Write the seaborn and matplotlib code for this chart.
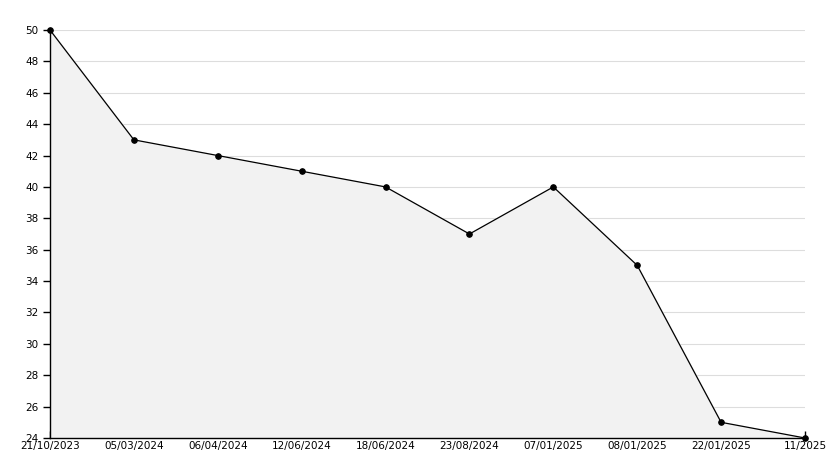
import numpy as np
import matplotlib
matplotlib.use('Agg')
import matplotlib.pyplot as plt
import seaborn as sns
from matplotlib.ticker import MultipleLocator

dates = ['21/10/2023', '05/03/2024', '06/04/2024', '12/06/2024', '18/06/2024',
         '23/08/2024', '07/01/2025', '08/01/2025', '22/01/2025', '11/2025']
values = [50, 43, 42, 41, 40, 37, 40, 35, 25, 24]

sns.set_style('ticks')
plt.rcParams['font.family'] = ['DejaVu Sans']

fig = plt.figure(figsize=(8.34, 4.68), dpi=100)
ax = fig.add_axes([50/834, 1-438/468, 755/834, 408/468])

x = np.arange(len(values))
ax.fill_between(x, values, 24, color='#f2f2f2', zorder=1)
sns.lineplot(x=x, y=values, ax=ax, color='black', lw=0.9, marker='o',
             markersize=4, markeredgecolor='black', zorder=3, clip_on=False)

ax.set_xlim(0, len(values) - 1)
ax.set_ylim(24, 50)
ax.yaxis.set_major_locator(MultipleLocator(2))
ax.yaxis.set_minor_locator(MultipleLocator(1))
ax.set_xticks(x)
ax.set_xticklabels(dates)
ax.grid(axis='y', which='major', color='#dddddd', lw=0.8, zorder=0)
ax.set_axisbelow(True)
ax.tick_params(axis='y', which='major', direction='out', length=5, width=1,
               labelsize=7.5, color='black', labelcolor='black', left=True)
ax.tick_params(axis='y', which='minor', direction='in', length=3, width=1,
               color='black', left=True)
ax.tick_params(axis='x', direction='in', length=5, width=1, labelsize=7.5, pad=2,
               color='black', labelcolor='black', bottom=True)
for s in ['top', 'right']:
    ax.spines[s].set_visible(False)
for s in ['left', 'bottom']:
    ax.spines[s].set_color('black')
    ax.spines[s].set_linewidth(1)

fig.savefig('out.png', dpi=100)
